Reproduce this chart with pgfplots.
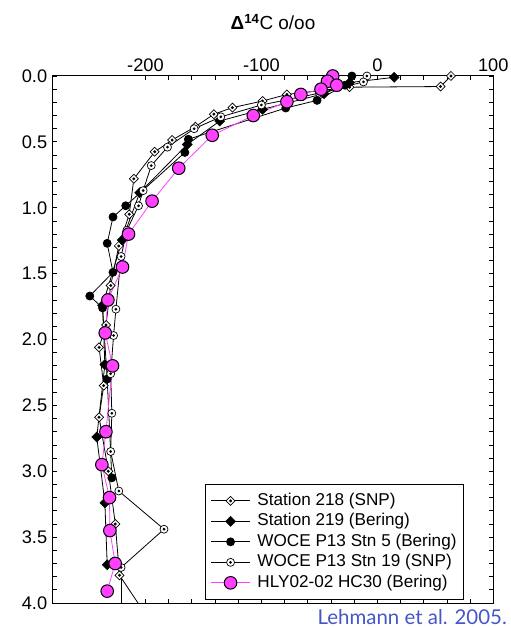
\documentclass[border=0pt]{standalone}
\usepackage{fontspec}
\setmainfont{Liberation Sans}
\newfontfamily\citefont{Lato}
\usepackage{pgfplots}
\pgfplotsset{compat=1.18}

\definecolor{hly}{RGB}{255,64,255}
\definecolor{citeblue}{RGB}{70,85,200}

% open diamond with a centre dot
\pgfdeclareplotmark{diadot}{%
  \pgfpathmoveto{\pgfqpoint{0pt}{\pgfplotmarksize}}%
  \pgfpathlineto{\pgfqpoint{\pgfplotmarksize}{0pt}}%
  \pgfpathlineto{\pgfqpoint{0pt}{-\pgfplotmarksize}}%
  \pgfpathlineto{\pgfqpoint{-\pgfplotmarksize}{0pt}}%
  \pgfpathclose\pgfusepathqfillstroke
  \begin{pgfscope}\pgfsetfillcolor{black}%
  \pgfpathcircle{\pgfpointorigin}{0.36\pgfplotmarksize}\pgfusepathqfill\end{pgfscope}}
% filled diamond
\pgfdeclareplotmark{diafill}{%
  \begin{pgfscope}\pgfsetfillcolor{black}%
  \pgfpathmoveto{\pgfqpoint{0pt}{\pgfplotmarksize}}%
  \pgfpathlineto{\pgfqpoint{\pgfplotmarksize}{0pt}}%
  \pgfpathlineto{\pgfqpoint{0pt}{-\pgfplotmarksize}}%
  \pgfpathlineto{\pgfqpoint{-\pgfplotmarksize}{0pt}}%
  \pgfpathclose\pgfusepathqfillstroke\end{pgfscope}}
% open circle with a centre dot
\pgfdeclareplotmark{circdot}{%
  \pgfpathcircle{\pgfpointorigin}{\pgfplotmarksize}\pgfusepathqfillstroke
  \begin{pgfscope}\pgfsetfillcolor{black}%
  \pgfpathcircle{\pgfpointorigin}{0.38\pgfplotmarksize}\pgfusepathqfill\end{pgfscope}}

\begin{document}
\begin{tikzpicture}[x=1bp,y=1bp]
\useasboundingbox (-52.7,-25) rectangle (458.3,603);
\begin{axis}[
  at={(0,0)}, anchor=south west,
  scale only axis, width=440.6bp, height=527bp,
  xmin=-280, xmax=100, ymin=0, ymax=4, y dir=reverse,
  xtick={-200,-100,0,100}, minor x tick num=4,
  ytick={0,0.5,1,1.5,2,2.5,3,3.5,4}, minor y tick num=4,
  xticklabel pos=right,
  tick align=inside, tick pos=both,
  major tick length=4bp, minor tick length=4bp,
  every tick/.style={black, line width=0.8bp},
  axis line style={line width=1bp},
  tick label style={font=\fontsize{18.3}{18}\selectfont},
  /pgf/number format/assume math mode=true,
  yticklabel style={/pgf/number format/fixed, /pgf/number format/fixed zerofill,
    /pgf/number format/precision=1, xshift=-2bp},
  xticklabel style={yshift=1bp},
  every axis plot/.append style={line width=0.8bp},
  legend cell align=left,
  legend style={at={(axis description cs:0.9335,0.006)}, anchor=south east,
    draw=black, line width=1bp, font=\fontsize{17.2}{18}\selectfont,
    row sep=1.5bp, inner xsep=5bp, inner ysep=7bp,
    nodes={inner xsep=2bp, inner ysep=1bp, text height=13bp, text depth=4bp},
    /tikz/every odd column/.append style={column sep=5bp}},
  legend image code/.code={\draw[mark repeat=2,mark phase=2]
    plot coordinates {(0bp,0bp) (19.5bp,0bp) (39bp,0bp)};},
]
% Station 218 (SNP)
\addplot[black, mark=diadot, mark size=4.5bp, mark options={fill=white, line width=0.7bp}]
  coordinates {(63.5,0.00) (54.5,0.08) (-24,0.085) (-78,0.14) (-99,0.19) (-125,0.24)
   (-141,0.29) (-157,0.385) (-177,0.486) (-192,0.575) (-210,0.78) (-214,1.05)
   (-223,1.29) (-230,1.59) (-234,1.89) (-240,2.06) (-236,2.35) (-240,2.59)
   (-232,3.00) (-226,3.40) (-222.4,3.79)};
\addlegendentry{Station 218 (SNP)}
% Station 219 (Bering)
\addplot[black, mark=diafill, mark size=5bp, mark options={line width=0.5bp}]
  coordinates {(14.5,0.01) (-24,0.05) (-46,0.134) (-99,0.253) (-136,0.342)
   (-164,0.52) (-205,0.886) (-220,1.245) (-237,1.74) (-235,2.19) (-242,2.74)
   (-235,3.24) (-233,3.71)};
\addlegendentry{Station 219 (Bering)}
% WOCE P13 Stn 5 (Bering)
\addplot[black, mark=*, mark size=4bp, mark options={fill=black}]
  coordinates {(-22,0.00) (-28,0.07) (-52,0.185) (-79,0.243) (-163,0.48)
   (-166,0.58) (-217,0.985) (-228,1.07) (-233,1.27) (-228,1.49) (-248,1.67)
   (-237,1.76) (-233,2.30) (-229,3.05)};
\addlegendentry{WOCE P13 Stn 5 (Bering)}
% WOCE P13 Stn 19 (SNP)
\addplot[black, mark=circdot, mark size=4bp, mark options={fill=white, line width=0.7bp}]
  coordinates {(-9,0.00) (-12,0.045) (-50,0.13) (-100,0.22) (-135,0.31)
   (-158,0.40) (-181,0.54) (-195,0.68) (-202,0.87) (-206,0.985) (-216,1.17)
   (-221,1.37) (-225.5,1.77) (-227.5,1.97) (-230,2.26) (-229,2.56) (-230,2.85)
   (-223,3.15) (-184,3.44) (-221,3.73)};
\addlegendentry{WOCE P13 Stn 19 (SNP)}
% HLY02-02 HC30 (Bering)
\addplot[hly, mark=*, mark size=6.3bp, mark options={fill=hly, draw=black, line width=1bp}]
  coordinates {(-38.5,0.00) (-43,0.04) (-35,0.07) (-48.6,0.10) (-66,0.14)
   (-78,0.195) (-107,0.30) (-142.4,0.45) (-171.3,0.70) (-194.3,0.95)
   (-214.6,1.20) (-219.8,1.45) (-232.4,1.70) (-234.7,1.95) (-228.4,2.20)
   (-234.1,2.70) (-237.6,2.95) (-231,3.20) (-230.7,3.45) (-226.1,3.70)
   (-233,3.91)};
\addlegendentry{HLY02-02 HC30 (Bering)}
% profiles continuing below the plotted depth range
\addplot[black, no marks, forget plot] coordinates {(-222.4,3.79) (-195,4.15)};
\addplot[black, no marks, forget plot] coordinates {(-221,3.73) (-221,4.3)};
\end{axis}
\node at (220.3,581) {\fontsize{19}{19}\selectfont\textbf{Δ}\textsuperscript{\textbf{14}}C o/oo};
\node[anchor=east, text=citeblue, inner sep=0pt] at (454.3,-14)
  {\citefont\fontsize{20.5}{20}\selectfont Lehmann et al. 2005.};
\end{tikzpicture}
\end{document}
